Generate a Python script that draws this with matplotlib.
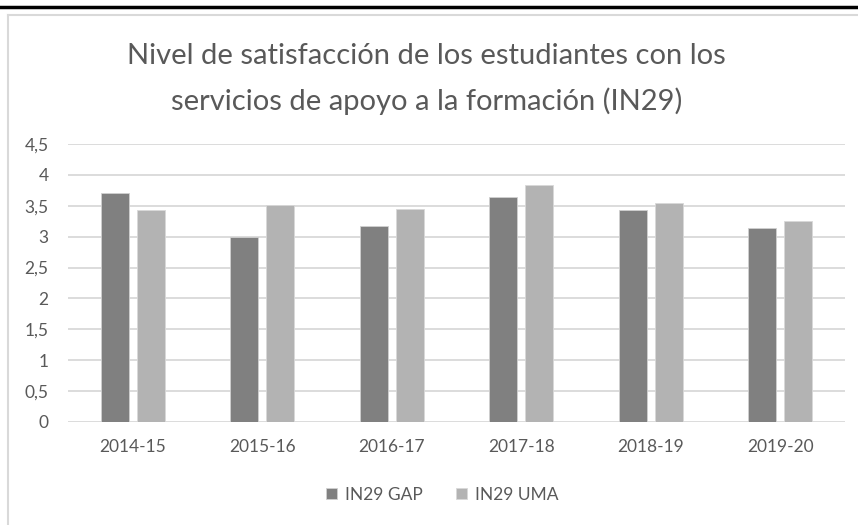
import matplotlib as mpl
mpl.use('Agg')
import matplotlib.pyplot as plt
from matplotlib.lines import Line2D
import numpy as np

cursos = ['2014-15', '2015-16', '2016-17', '2017-18', '2018-19', '2019-20']
in29_gap = [3.70, 3.00, 3.17, 3.64, 3.43, 3.14]
in29_uma = [3.43, 3.52, 3.44, 3.84, 3.55, 3.26]
yticks = [0, 0.5, 1, 1.5, 2, 2.5, 3, 3.5, 4, 4.5]
ytick_labels = ['0', '0,5', '1', '1,5', '2', '2,5', '3', '3,5', '4', '4,5']

plt.rcParams['font.family'] = ['Lato', 'DejaVu Sans']
txt = '#595959'

fig = plt.figure(figsize=(8.58, 5.25), dpi=100)
ax = fig.add_axes([68 / 858, 1 - 422 / 525, 777 / 858, 278 / 525])

x = np.arange(len(cursos))
w = 28 / 129.5
off = 18 / 129.5
ax.bar(x - off, in29_gap, w, color='#808080', edgecolor='#d0d0d0', linewidth=0.6,
       label='IN29 GAP', zorder=3)
ax.bar(x + off, in29_uma, w, color='#b3b3b3', edgecolor='#d8d8d8', linewidth=0.6,
       label='IN29 UMA', zorder=3)

ax.set_xlim(-0.5, len(cursos) - 0.5)
ax.set_ylim(0, 4.5)
ax.set_yticks(yticks)
ax.set_yticklabels(ytick_labels)
ax.set_xticks(x)
ax.set_xticklabels(cursos)
ax.grid(axis='y', color='#d9d9d9', linewidth=1.3, zorder=0)
for s in ax.spines.values():
    s.set_visible(False)
ax.tick_params(length=0, labelsize=12.5, colors=txt)
ax.tick_params(axis='y', pad=14)
ax.tick_params(axis='x', pad=12)

fig.text(0.497, 1 - 56 / 525, 'Nivel de satisfacción de los estudiantes con los',
         ha='center', va='center', fontsize=21, color=txt)
fig.text(0.497, 1 - 101 / 525, 'servicios de apoyo a la formación (IN29)',
         ha='center', va='center', fontsize=21, color=txt)

ax.legend(loc='center', bbox_to_anchor=(0.5 - 14 / 777, (422 - 495) / 278),
          ncol=2, frameon=False, fontsize=12.5, labelcolor=txt,
          handlelength=0.6, handleheight=0.6, handletextpad=0.5, columnspacing=1.9)

# outer frame
fig.add_artist(Line2D([0, 1], [1 - 7 / 525, 1 - 7 / 525], color='black', linewidth=2.5))
fig.add_artist(Line2D([8 / 858, 1], [1 - 15 / 525, 1 - 15 / 525], color='#d9d9d9', linewidth=1.5))
fig.add_artist(Line2D([8 / 858, 8 / 858], [0, 1 - 15 / 525], color='#d9d9d9', linewidth=1.5))

fig.savefig('out.png', dpi=100)
